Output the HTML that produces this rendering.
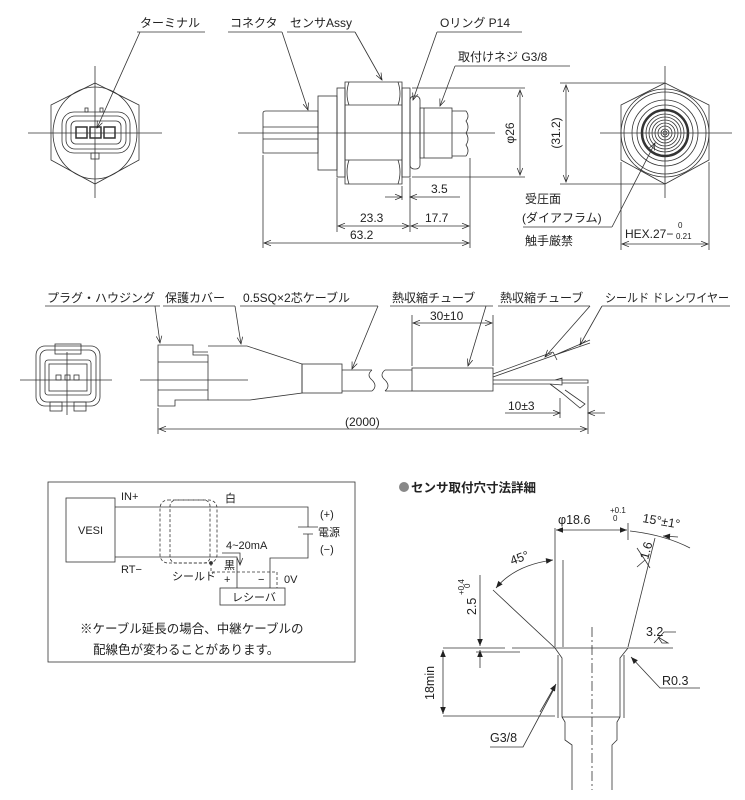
<!DOCTYPE html>
<html><head><meta charset="utf-8"><style>
html,body{margin:0;padding:0;background:#fff}
svg{display:block}
text{font-family:"Liberation Sans","Noto Sans CJK JP",sans-serif;fill:#222}
</style></head><body>
<svg width="745" height="800" viewBox="0 0 745 800" xmlns="http://www.w3.org/2000/svg">
<defs>
<marker id="a" viewBox="0 0 10 10" refX="10" refY="5" markerWidth="9" markerHeight="7" orient="auto-start-reverse" markerUnits="userSpaceOnUse"><path d="M0,1 L10,5 L0,9" fill="none" stroke="#222" stroke-width="1"/></marker>
<marker id="f" viewBox="0 0 10 10" refX="10" refY="5" markerWidth="10" markerHeight="7" orient="auto-start-reverse" markerUnits="userSpaceOnUse"><path d="M0,1 L10,5 L0,9z" fill="#222"/></marker>
</defs>
<g stroke="#333" stroke-width="0.8" fill="none">
<line x1="28" y1="133" x2="162" y2="133"/><line x1="95" y1="66" x2="95" y2="198"/>
<polygon points="95,83 139,105 139,160 95,184 51,160 51,105"/>
<ellipse cx="95" cy="133" rx="42" ry="46"/>
<rect x="62" y="112" width="68" height="41" rx="12"/>
<rect x="66" y="116" width="60" height="33" rx="9"/>
<rect x="71" y="121" width="50" height="23" rx="5"/>
<rect x="76" y="127" width="11" height="11" stroke-width="1.5"/><rect x="90" y="127" width="11" height="11" stroke-width="1.5"/><rect x="104" y="127" width="11" height="11" stroke-width="1.5"/>
<rect x="85" y="108" width="3" height="4"/><rect x="100" y="108" width="3" height="4"/><rect x="91" y="153" width="8" height="6"/>
<line x1="137" y1="32" x2="205" y2="32"/><line x1="140" y1="32" x2="97" y2="128" marker-end="url(#a)"/>
<line x1="238" y1="133" x2="495" y2="133"/>
<path d="M263,153 V113 Q263,111 266,111 H318 V153 Z"/>
<line x1="263" y1="127" x2="318" y2="127"/><line x1="263" y1="139" x2="318" y2="139"/>
<rect x="318" y="96" width="19" height="74"/>
<rect x="337" y="88" width="8" height="89"/>
<path d="M345,82 H402 V184 H345 Z M345,105 H402 M345,160 H402"/>
<path d="M349,82 Q345,94 349,105 M398,82 Q402,94 398,105 M349,160 Q345,172 349,184 M398,160 Q402,172 398,184"/>
<rect x="402" y="88" width="8" height="89"/>
<rect x="410" y="96" width="10" height="73" rx="4"/>
<rect x="420" y="108" width="32" height="50"/><line x1="424" y1="108" x2="424" y2="158"/>
<path d="M452,111 H466 Q470,116 466,121 Q470,127 466,133 Q470,139 466,145 Q470,151 466,156 H452"/>
<line x1="228" y1="32" x2="282" y2="32"/><line x1="282" y1="32" x2="308" y2="110" marker-end="url(#a)"/>
<line x1="287" y1="32" x2="355" y2="32"/><line x1="355" y1="32" x2="382" y2="80" marker-end="url(#a)"/>
<line x1="437" y1="32" x2="522" y2="32"/><line x1="437" y1="32" x2="413" y2="100" marker-end="url(#a)"/>
<line x1="455" y1="66" x2="570" y2="66"/><line x1="455" y1="66" x2="440" y2="106" marker-end="url(#a)"/>
<line x1="412" y1="88" x2="525" y2="88"/><line x1="412" y1="177" x2="525" y2="177"/>
<line x1="520" y1="90" x2="520" y2="175" marker-start="url(#a)" marker-end="url(#a)"/>
<line x1="263" y1="155" x2="263" y2="248"/><line x1="337" y1="178" x2="337" y2="232"/>
<line x1="402" y1="186" x2="402" y2="200"/><line x1="410" y1="178" x2="410" y2="232"/><line x1="470" y1="158" x2="470" y2="248"/>
<line x1="385" y1="197" x2="402" y2="197" marker-end="url(#a)"/><line x1="460" y1="197" x2="410" y2="197" marker-end="url(#a)"/>
<line x1="338" y1="226" x2="409" y2="226" marker-start="url(#a)" marker-end="url(#a)"/>
<line x1="411" y1="226" x2="469" y2="226" marker-start="url(#a)" marker-end="url(#a)"/>
<line x1="264" y1="243" x2="469" y2="243" marker-start="url(#a)" marker-end="url(#a)"/>
<line x1="600" y1="133" x2="732" y2="133"/><line x1="665" y1="66" x2="665" y2="198"/>
<polygon points="665,83 709,105 709,160 665,184 621,160 621,105"/>
<circle cx="665" cy="133" r="44"/><circle cx="665" cy="133" r="41"/><circle cx="665" cy="133" r="33"/><circle cx="665" cy="133" r="28"/>
<circle cx="665" cy="133" r="23" stroke-width="2.5"/>
<circle cx="665" cy="133" r="19"/><circle cx="665" cy="133" r="16"/><circle cx="665" cy="133" r="13"/><circle cx="665" cy="133" r="10"/><circle cx="665" cy="133" r="7"/><circle cx="665" cy="133" r="4"/><circle cx="665" cy="133" r="2"/>
<line x1="560" y1="83" x2="665" y2="83"/><line x1="560" y1="184" x2="665" y2="184"/>
<line x1="566" y1="85" x2="566" y2="182" marker-start="url(#a)" marker-end="url(#a)"/>
<line x1="621" y1="162" x2="621" y2="250"/><line x1="709" y1="162" x2="709" y2="250"/>
<line x1="622" y1="244" x2="708" y2="244" marker-start="url(#a)" marker-end="url(#a)"/>
<line x1="523" y1="227" x2="612" y2="227"/><line x1="612" y1="227" x2="655" y2="143" marker-end="url(#a)"/>
<rect x="36" y="346" width="64" height="60" rx="9"/><rect x="40" y="350" width="56" height="52" rx="7"/>
<rect x="55" y="344" width="26" height="10"/><rect x="45" y="360" width="46" height="35" rx="3"/><rect x="49" y="364" width="38" height="27"/>
<rect x="56" y="375" width="5" height="5"/><rect x="65" y="375" width="5" height="5"/><rect x="74" y="375" width="5" height="5"/>
<rect x="50" y="402" width="12" height="9"/><rect x="74" y="402" width="12" height="9"/>
<line x1="20" y1="380" x2="112" y2="380"/><line x1="67" y1="352" x2="67" y2="415"/>
<line x1="140" y1="380" x2="248" y2="380"/>
<path d="M158,345 H193 V355 H208 V400 H175 V406 H158 Z M158,362 H208 M158,390 H208 M193,352 H208"/>
<path d="M208,346 H247 L302,364 V393 L250,400 H208"/>
<rect x="302" y="364" width="40" height="29"/>
<path d="M342,370 H372 M342,391 H372 M372,370 Q366,375 372,380 Q378,386 372,391 M385,370 Q379,375 385,380 Q391,386 385,391 M385,370 H412 M385,391 H412"/>
<rect x="412" y="368" width="81" height="23"/>
<path d="M493,377 L555,355 L590,340 M493,374 L553,352 M553,352 L557,360 M555,355 L590,343"/>
<path d="M493,380 H555 M493,384 H550 M555,380 L562,378 V385 L550,384 M555,380 H588 V383 H562 M550,384 L562,393 L580,408 L585,404 L565,390"/>
<line x1="45" y1="306" x2="160" y2="306"/><line x1="155" y1="306" x2="160" y2="343" marker-end="url(#a)"/>
<line x1="163" y1="306" x2="235" y2="306"/><line x1="235" y1="306" x2="241" y2="344" marker-end="url(#a)"/>
<line x1="240" y1="306" x2="378" y2="306"/><line x1="378" y1="306" x2="352" y2="369" marker-end="url(#a)"/>
<line x1="390" y1="306" x2="493" y2="306"/><line x1="486" y1="306" x2="468" y2="366" marker-end="url(#a)"/>
<line x1="498" y1="306" x2="590" y2="306"/><line x1="590" y1="306" x2="545" y2="357" marker-end="url(#a)"/>
<line x1="602" y1="306" x2="730" y2="306"/><line x1="602" y1="306" x2="580" y2="345" marker-end="url(#a)"/>
<line x1="412" y1="315" x2="412" y2="366"/><line x1="493" y1="315" x2="493" y2="366"/>
<line x1="413" y1="323" x2="492" y2="323" marker-start="url(#a)" marker-end="url(#a)"/>
<line x1="158" y1="408" x2="158" y2="434"/><line x1="588" y1="386" x2="588" y2="434"/><line x1="560" y1="398" x2="560" y2="418"/>
<line x1="159" y1="429" x2="587" y2="429" marker-start="url(#a)" marker-end="url(#a)"/>
<line x1="505" y1="413" x2="560" y2="413" marker-end="url(#a)"/><line x1="605" y1="413" x2="588" y2="413" marker-end="url(#a)"/>
<rect x="48" y="482" width="307" height="180"/>
<rect x="66" y="498" width="49" height="64"/>
<path d="M115,507 H308 V527 M298,527 H318 M303,534 H313 M308,534 V558 H270 V588 M115,557 H237 V588"/>
<rect x="220" y="588" width="65" height="17"/>
<g stroke-dasharray="3,2"><rect x="160" y="500" width="57" height="63" rx="8"/><rect x="170" y="500" width="40" height="63" rx="6"/><path d="M211,563 V572 H277 V588"/></g>
<path d="M222,553 H240 V565" marker-end="url(#a)"/>
<circle cx="211" cy="563" r="1.5" fill="#333"/>
<line x1="555" y1="528" x2="555" y2="647"/><line x1="563" y1="560" x2="563" y2="647"/>
<line x1="655" y1="538" x2="628" y2="647"/><line x1="628" y1="523" x2="628" y2="540"/>
<path d="M443,648 H505 M512,648 H673" />
<line x1="493" y1="590" x2="555" y2="648"/>
<path d="M555,648 L562,658 V717 L565,722 V740 L572,745 V790 M628,648 L620,658 V717 L617,722 V740 L612,745 V790 M558,655 V718 M624,655 V718 M562,717 H620"/>
<line x1="592" y1="627" x2="592" y2="790" stroke-dasharray="10,3,2,3"/>
<line x1="556" y1="530" x2="627" y2="530" marker-start="url(#f)" marker-end="url(#f)"/>
<path d="M630,531 Q665,535 690,548"/><line x1="678" y1="537" x2="663" y2="536" marker-end="url(#f)"/>
<path d="M553,560 Q515,565 496,588" marker-start="url(#f)" marker-end="url(#f)"/>
<line x1="480" y1="575" x2="480" y2="646" marker-end="url(#f)"/><line x1="480" y1="668" x2="480" y2="650" marker-end="url(#f)"/>
<line x1="476" y1="652" x2="520" y2="652"/>
<line x1="443" y1="716" x2="555" y2="716"/>
<line x1="443" y1="650" x2="443" y2="714" marker-start="url(#f)" marker-end="url(#f)"/>
<path d="M490,747 H523 L555,687" /><line x1="540" y1="712" x2="556" y2="684" marker-end="url(#f)"/>
<path d="M700,688 H660 L631,657" marker-end="url(#f)"/>
<path d="M654,643 L664,632 H676 M658,637 L662,643 H668 Z"/>
<path d="M637,548 L645,560 L650,568 M637,567 L645,560"/>
</g>
<g font-size="12">
<text x="140" y="27">ターミナル</text>
<text x="230" y="27">コネクタ</text>
<text x="290" y="27">センサAssy</text>
<text x="440" y="27">Oリング  P14</text>
<text x="458" y="61">取付けネジ G3/8</text>
<text x="431" y="193">3.5</text>
<text x="360" y="222">23.3</text>
<text x="425" y="222">17.7</text>
<text x="350" y="239">63.2</text>
<text transform="translate(514,133) rotate(-90)" text-anchor="middle">φ26</text>
<text transform="translate(560,133) rotate(-90)" text-anchor="middle">(31.2)</text>
<text x="525" y="203">受圧面</text>
<text x="522" y="222">(ダイアフラム)</text>
<text x="525" y="245">触手厳禁</text>
<text x="625" y="238">HEX.27−</text><text x="678" y="228" font-size="8">0</text><text x="676" y="239" font-size="8">0.21</text>
<text x="47" y="302" textLength="108" lengthAdjust="spacingAndGlyphs">プラグ・ハウジング</text>
<text x="165" y="302">保護カバー</text>
<text x="243" y="302">0.5SQ×2芯ケーブル</text>
<text x="392" y="302">熱収縮チューブ</text>
<text x="500" y="302">熱収縮チューブ</text>
<text x="605" y="302" textLength="124" lengthAdjust="spacingAndGlyphs">シールド  ドレンワイヤー</text>
<text x="430" y="320">30±10</text>
<text x="508" y="410">10±3</text>
<text x="345" y="426">(2000)</text>
</g>
<g font-size="11">
<text x="78" y="534">VESI</text>
<text x="121" y="500">IN+</text>
<text x="225" y="502">白</text>
<text x="320" y="518">(+)</text>
<text x="318" y="536">電源</text>
<text x="320" y="553">(−)</text>
<text x="226" y="549">4~20mA</text>
<text x="224" y="569">黒</text>
<text x="121" y="573">RT−</text>
<text x="172" y="580">シールド</text>
<text x="224" y="583">+</text>
<text x="258" y="583">−</text>
<text x="284" y="583">0V</text>
<text x="232" y="601">レシーバ</text>
</g>
<g font-size="12.5">
<text x="80" y="633">※ケーブル延長の場合、中継ケーブルの</text>
<text x="93" y="654">配線色が変わることがあります。</text>
</g>
<circle cx="404" cy="487" r="5" fill="#888"/>
<text x="411" y="492" font-size="12.5" font-weight="bold">センサ取付穴寸法詳細</text>
<g font-size="12.5">
<text x="558" y="524">φ18.6</text><text x="610" y="513" font-size="8">+0.1</text><text x="613" y="521" font-size="8">0</text>
<text x="642" y="522" transform="rotate(10,642,522)">15°±1°</text>
<text x="512" y="565" transform="rotate(-20,512,565)">45°</text>
<text transform="translate(476,615) rotate(-90)">2.5</text>
<text transform="translate(464,595) rotate(-90)" font-size="8">+0.4</text><text transform="translate(470,588) rotate(-90)" font-size="8">0</text>
<text transform="translate(434,700) rotate(-90)">18min</text>
<text transform="translate(648,560) rotate(-75)">1.6</text>
<text x="646" y="636">3.2</text>
<text x="490" y="742">G3/8</text>
<text x="662" y="685">R0.3</text>
</g>
</svg>
</body></html>
